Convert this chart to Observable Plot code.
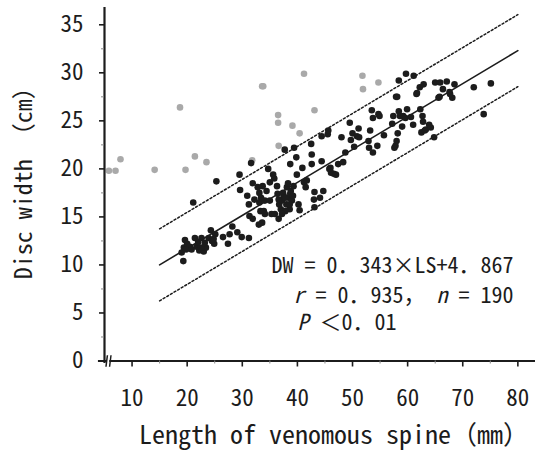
<!DOCTYPE html>
<html>
<head>
<meta charset="utf-8">
<script src="https://cdn.jsdelivr.net/npm/d3@7"></script>
<script src="https://cdn.jsdelivr.net/npm/@observablehq/plot@0.6"></script>
<style>
  html, body { margin: 0; padding: 0; background: #fff; }
</style>
</head>
<body>
<div id="chart"></div>
<script>
// Black points: fitted sample (length of spine mm, disc width cm)
const blackX = [19.3,19.0,19.4,19.6,20.0,20.5,21.1,21.4,21.7,22.2,22.6,23.0,23.4,23.9,24.3,24.5,24.9,25.3,25.1,26.5,27.4,27.7,28.2,29.1,29.9,31.2,29.5,29.6,31.6,31.9,30.9,31.2,31.3,31.9,32.2,32.8,33.1,33.1,33.3,33.0,33.6,33.9,34.1,34.4,35.0,34.7,35.3,35.6,35.8,36.3,36.4,36.6,36.7,37.0,37.2,37.5,37.7,38.0,38.1,38.4,38.6,38.7,38.8,39.0,39.4,39.8,39.9,40.2,40.4,40.9,41.2,41.5,41.7,42.5,42.6,42.6,43.0,43.1,43.1,44.1,44.4,44.4,44.7,45.5,45.6,45.8,46.1,46.6,47.0,47.4,48.0,48.3,48.7,49.5,49.7,50.0,50.3,50.8,51.1,51.2,52.9,53.0,53.2,53.5,53.7,53.7,54.5,54.7,54.9,55.7,57.2,57.4,57.6,57.8,57.9,58.0,58.2,58.4,58.4,58.6,59.0,59.2,59.6,59.7,59.9,60.6,61.0,61.1,61.6,62.2,62.3,62.5,62.7,62.8,62.9,63.1,63.3,63.9,64.2,64.8,65.0,65.6,65.9,66.4,67.1,67.6,68.1,68.5,72.0,73.8,75.1,19.8,20.8,22.0,23.2,22.5,24.8,33.4,33.7,34.1,35.0,35.9,36.6,37.4,37.8,38.3,38.7,39.2,39.3,38.6,37.8,37.2,46.0,58.1,61.7,65.8,67.7];
const blackY = [10.4,11.3,11.8,12.6,12.2,11.9,16.5,12.8,11.9,11.5,12.8,11.4,11.8,12.8,13.6,12.5,12.2,18.7,13.2,12.9,12.2,13.2,14.0,13.4,12.9,12.8,19.4,17.8,20.6,18.5,17.2,16.3,15.1,14.8,16.8,18.1,17.5,16.5,15.6,14.2,14.4,15.6,16.7,17.7,18.6,20.0,15.3,19.4,19.0,18.2,17.4,14.8,16.3,15.8,16.7,17.2,22.0,16.3,18.1,17.0,15.8,20.5,17.7,16.7,22.2,21.2,19.4,16.3,15.7,20.1,18.6,18.1,18.8,22.6,21.5,20.5,16.8,17.6,16.0,17.0,20.8,23.4,17.7,23.6,24.0,20.0,19.6,19.5,19.4,20.5,23.3,20.7,21.7,24.8,23.0,23.7,22.3,23.4,24.2,23.3,22.9,22.2,24.0,26.1,25.3,21.7,22.4,25.7,25.5,23.5,24.7,25.5,22.2,22.4,27.5,22.9,23.7,29.2,26.0,25.5,24.4,25.5,25.3,29.9,26.2,25.4,24.6,29.7,27.8,28.5,26.2,23.8,25.5,24.9,28.8,24.0,24.1,24.6,24.3,23.3,29.0,27.4,29.0,28.3,29.1,28.0,27.4,28.8,28.5,25.7,28.9,11.6,11.6,12.4,12.3,11.8,12.7,17.0,18.2,15.3,16.7,15.3,16.8,17.5,17.0,18.5,17.4,17.2,18.2,16.3,15.6,15.3,20.1,27.5,27.9,27.5,27.8];
// Grey points: outliers excluded from the fit
const greyX = [5.8,7.0,7.9,14.1,18.7,19.7,21.4,23.5,31.8,33.6,33.8,36.5,36.5,36.6,39.1,40.4,41.2,43.1,51.8,51.9,54.7];
const greyY = [19.8,19.8,21.0,19.9,26.4,19.9,21.3,20.7,20.9,28.6,28.6,25.6,24.8,22.4,24.5,23.7,29.9,26.1,29.7,28.3,29.0];

// Regression and prediction band
const slope = 0.343, intercept = 4.867, band = 3.75;
const fitRange = [15, 80];

// Axes
const xMajor = [10, 20, 30, 40, 50, 60, 70, 80];
const xMinor = [15, 25, 35, 45, 55, 65, 75];
const yMajor = [0, 5, 10, 15, 20, 25, 30, 35];
const yMinor = [2.5, 7.5, 12.5, 17.5, 22.5, 27.5, 32.5];
const xLabel = "Length of venomous spine（mm）";
const yLabel = "Disc width （cm）";
const annLines = ["DW = 0．343×LS+4．867", "r = 0．935， n = 190", "P ＜0．01"];

const font = "'Noto Sans Mono CJK JP', 'Liberation Mono', 'DejaVu Sans Mono', monospace";
const ink = "#1c1c1c";

const fit = fitRange.map(x => ({x, y: slope * x + intercept}));
const upper = fitRange.map(x => ({x, y: slope * x + intercept + band}));
const lower = fitRange.map(x => ({x, y: slope * x + intercept - band}));

const xDomain = [5, 83.2];
const yDomain = [0, 36.8];

const chart = Plot.plot({
  width: 535,
  height: 462,
  marginLeft: 104,
  marginRight: 0,
  marginTop: 7,
  marginBottom: 101.5,
  style: {fontFamily: font, fontSize: "22px", color: ink, background: "#fff"},
  x: {domain: xDomain, axis: null},
  y: {domain: yDomain, axis: null},
  marks: [
    // fit lines
    Plot.line(upper, {x: "x", y: "y", stroke: ink, strokeWidth: 1.5, strokeDasharray: "2,2.2"}),
    Plot.line(lower, {x: "x", y: "y", stroke: ink, strokeWidth: 1.5, strokeDasharray: "2,2.2"}),
    Plot.line(fit, {x: "x", y: "y", stroke: ink, strokeWidth: 1.6}),
    // points
    Plot.dot(greyX.map((_, i) => i), {x: greyX, y: greyY, r: 3.3, fill: "#a9a9a9", stroke: "none"}),
    Plot.dot(blackX.map((_, i) => i), {x: blackX, y: blackY, r: 3.3, fill: ink, stroke: "none"}),
    // axes lines
    Plot.ruleY([0], {x1: 3.9, x2: 83.2, stroke: ink, strokeWidth: 2.2}),
    Plot.ruleX([5], {y1: -0.25, y2: 36.8, stroke: ink, strokeWidth: 2.2}),
    Plot.axisX({ticks: xMajor, label: null, tickSize: 6, tickPadding: 23, fontSize: 23, stroke: ink, strokeWidth: 1.6, fill: ink}),
    Plot.axisX({ticks: xMinor, label: null, tickSize: 3, tickFormat: () => "", stroke: "#888", strokeWidth: 1}),
    Plot.axisY({ticks: yMajor, label: null, tickSize: 5, tickPadding: 16, fontSize: 23, stroke: ink, strokeWidth: 1.6, fill: ink}),
    Plot.axisY({ticks: yMinor, label: null, tickSize: 3, tickFormat: () => "", stroke: "#888", strokeWidth: 1}),
    // axis break
    Plot.rect([0], {x1: 5.5, x2: 5.95, y1: -0.35, y2: 0.35, fill: "#fff"}),
    Plot.link([5.4, 6.05], {x1: d => d - 0.13, x2: d => d + 0.13, y1: -0.6, y2: 0.6, stroke: ink, strokeWidth: 1.5}),
    // labels
    Plot.text([xLabel], {frameAnchor: "bottom", text: d => d, dx: 14, dy: 83, fontSize: 26, fill: ink}),
    Plot.text([yLabel], {frameAnchor: "left", text: d => d, rotate: -90, textAnchor: "middle", dx: -80, dy: -7, fontSize: 24, fill: ink}),
    // annotation
    Plot.text([annLines[0]], {x: 79.2, y: 9.94, text: d => d, textAnchor: "end", fontSize: 22, fill: ink, className: "ann"}),
    Plot.text([annLines[1]], {x: 79.2, y: 6.8, text: d => d, textAnchor: "end", fontSize: 22, fill: ink, className: "ann"}),
    Plot.text([annLines[2]], {x: 40.0, y: 4.0, text: d => d, textAnchor: "start", fontSize: 22, fill: ink, className: "ann"})
  ]
});

// italicise statistic symbols
d3.select(chart).selectAll("g.ann text").each(function() {
  const t = this.textContent;
  const parts = t.split(/(\br\b|\bn\b|\bP\b)/);
  if (parts.length > 1) {
    const sel = d3.select(this);
    sel.text(null);
    parts.forEach(p => {
      if (!p) return;
      const ts = sel.append("tspan").text(p);
      if (p === "r" || p === "n" || p === "P") ts.attr("font-style", "italic");
    });
  }
});

document.getElementById("chart").appendChild(chart);
</script>
</body>
</html>
